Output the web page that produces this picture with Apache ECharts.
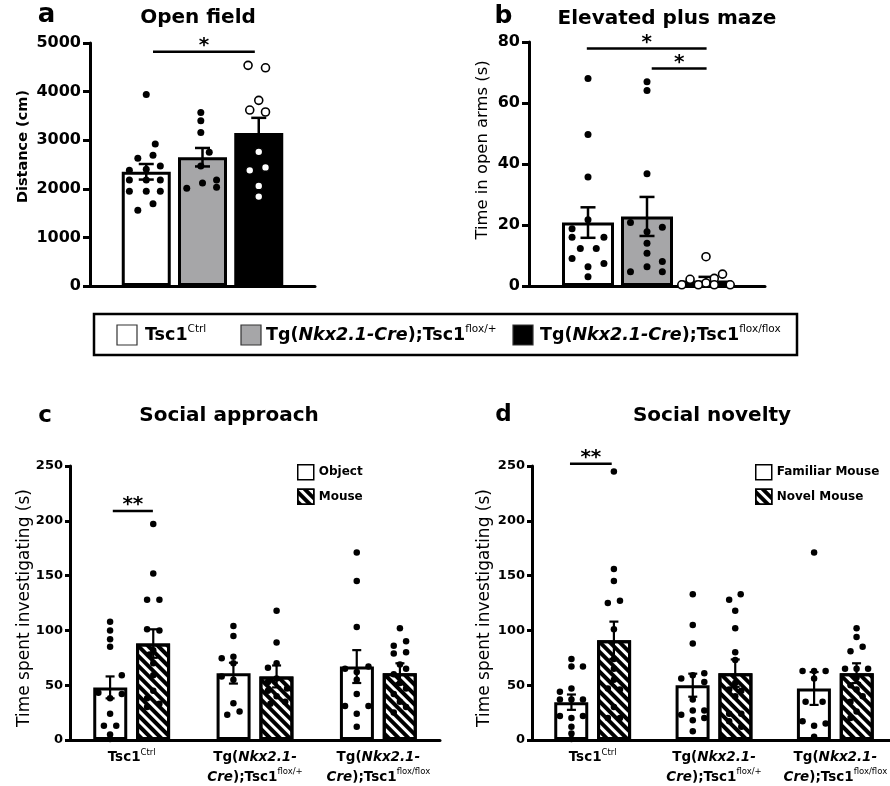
<!DOCTYPE html>
<html><head><meta charset="utf-8">
<script src="https://cdn.jsdelivr.net/npm/echarts@6/dist/echarts.min.js"></script>
<style>html,body{margin:0;padding:0;background:#fff}#c{width:890px;height:786px}</style>
</head><body><div id="c"></div>
<script>
// ---------- DATA ----------
const genotypeLegend = ['{n|Tsc1}{s|Ctrl}', '{n|Tg(}{i|Nkx2.1-Cre}{n|);Tsc1}{s|flox/+}', '{n|Tg(}{i|Nkx2.1-Cre}{n|);Tsc1}{s|flox/flox}'];
const groupLabels = ['{n|Tsc1}{s|Ctrl}', '{n|Tg(}{i|Nkx2.1-}\n{i|Cre}{n|);Tsc1}{s|flox/+}', '{n|Tg(}{i|Nkx2.1-}\n{i|Cre}{n|);Tsc1}{s|flox/flox}'];
const genoFill = ['#ffffff', '#a6a6a8', '#000000'];

// a: open field distance (cm)
const ofMean = [2350, 2650, 3150];
const ofSem = [160, 190, 310];
const ofVals = [
  [3940, 2920, 2690, 2630, 2470, 2400, 2380, 2180, 2180, 2180, 1950, 1950, 1950, 1690, 1560],
  [3570, 3400, 3160, 2750, 2470, 2180, 2120, 2030, 2010],
  [4540, 4490, 3820, 3620, 3580, 2760, 2440, 2380, 2060, 1840]
];
const ofJit = [
  [0, 0.16, 0.12, -0.15, 0.25, 0, -0.3, -0.3, 0, 0.25, -0.3, 0, 0.25, 0.12, -0.15],
  [-0.03, -0.03, -0.03, 0.12, -0.03, 0.25, 0, 0.25, -0.28],
  [-0.19, 0.12, 0, -0.16, 0.12, 0, 0.12, -0.16, 0, 0]
];
const ofSig = [[1.12, 2.93, 4820]];
const ofSigMark = ['*'];

// b: elevated plus maze, time in open arms (s)
const epmMean = [20.8, 22.8, 1.8];
const epmSem = [5, 6.4, 1.2];
const epmVals = [
  [68, 49.7, 35.7, 21.7, 18.8, 16, 16, 12.3, 12.3, 9, 7.4, 6.3, 3],
  [67, 64.1, 36.8, 20.8, 19.3, 17.8, 14, 10.7, 8, 6.3, 4.7, 4.7],
  [9.6, 3.9, 2.5, 2.2, 1, 0.4, 0.4, 0.4, 0.4]
];
const epmJit = [
  [0, 0, 0, 0, -0.27, -0.27, 0.27, -0.13, 0.14, -0.27, 0.27, 0, 0],
  [0, 0, 0, -0.28, 0.26, 0, 0, 0, 0.26, 0, -0.28, 0.26],
  [0, 0.28, 0.14, -0.27, 0, -0.41, -0.13, 0.14, 0.41]
];
const epmSig = [[0.98, 3.01, 77.9], [2.08, 3.01, 71.3]];
const epmSigMark = ['*', '*'];

// c: social approach (s)
const saNames = ['Object', 'Mouse'];
const saMean = [[48, 61, 67], [88, 58, 61]];
const saSem = [[10, 9.5, 15], [13, 10, 9]];
const saVals = [
  [[108, 100, 92, 85, 59, 43, 42, 38, 24, 13, 13, 5, 1],
   [104, 95, 76, 74.5, 70, 58, 55, 33.5, 26, 23],
   [171, 145, 103, 67, 65, 62, 55, 42, 31, 31, 24, 12]],
  [[197, 152, 128, 128, 101, 100, 82, 78, 70, 59, 45, 38, 33, 30],
   [118, 89, 70, 66, 56, 53, 47, 45, 40, 35, 33],
   [102, 90, 86, 80, 79, 69, 65, 60, 52, 47, 42, 35, 30, 25]]
];
const saJit = [
  [[0, 0, 0, 0, 0.095, -0.095, 0.095, 0, 0, -0.05, 0.05, 0, 0],
   [0, 0, 0, -0.095, 0, -0.095, 0, 0, 0.05, -0.05],
   [0, 0, 0, 0.095, -0.095, 0, 0, 0, -0.095, 0.095, 0, 0]],
  [[0, 0, -0.05, 0.05, -0.05, 0.05, 0, -0.03, 0, 0, 0, -0.05, 0.05, -0.05],
   [0, 0, 0, -0.07, 0, -0.07, 0.085, -0.07, 0, 0.07, -0.05],
   [0, 0.05, -0.05, 0.05, -0.05, 0, 0.05, -0.05, 0, 0.05, -0.05, 0, 0.05, -0.05]]
];
const saSig = [[0.847, 1.172, 209]];
const saSigMark = ['**'];

// d: social novelty (s)
const snNames = ['Familiar Mouse', 'Novel Mouse'];
const snMean = [[34.5, 50, 47], [91, 61, 61]];
const snSem = [[7, 10.5, 15], [17, 12.5, 9]];
const snVals = [
  [[74, 67, 67, 47, 44, 37, 37, 37, 22, 22, 20, 12, 6, 1],
   [133, 105, 88, 61, 59, 56, 53, 37, 27, 27, 23, 20, 18, 8],
   [171, 63, 63, 63, 56, 35, 35, 17, 15, 13, 3]],
  [[245, 156, 145, 127, 125, 101, 74, 65, 55, 47, 46, 30, 20, 20],
   [133, 128, 118, 102, 80, 73, 52, 46, 45, 40, 24, 24, 17, 12],
   [102, 94, 85, 81, 65, 65, 65, 57, 50, 46, 40, 35, 26, 20]]
];
const snJit = [
  [[0, 0, 0.095, 0, -0.095, -0.095, 0, 0.095, -0.095, 0.095, 0, 0, 0, 0],
   [0, 0, 0, 0.095, 0, -0.095, 0.095, 0, 0, 0.095, -0.095, 0.095, 0, 0],
   [0, -0.095, 0, 0.095, 0, -0.07, 0.07, -0.095, 0.095, 0, 0]],
  [[0, 0, 0, 0.05, -0.05, 0, 0, 0, 0, -0.05, 0.05, 0, -0.05, 0.05],
   [0.045, -0.05, 0, 0, 0, 0, 0, -0.05, 0.05, 0, -0.05, 0.05, -0.05, 0.05],
   [0, 0, 0.05, -0.05, -0.095, 0, 0.095, 0, -0.05, 0, 0.05, -0.05, 0, -0.05]]
];
const snSig = [[0.813, 1.157, 252]];
const snSigMark = ['**'];

// ---------- STYLE HELPERS ----------
const FF = 'DejaVu Sans';
const SIDE = 0.175; // half distance between paired bars, in group units
const hatch = {symbol: 'rect', symbolSize: 1, dashArrayX: [1, 0], dashArrayY: [3.2, 3], rotation: Math.PI / 4, color: '#000'};

function richDef(sz, supSz, lh) {
  return {
    n: {fontFamily: FF, fontWeight: 'bold', fontSize: sz, color: '#000', lineHeight: lh},
    i: {fontFamily: FF, fontWeight: 'bold', fontStyle: 'italic', fontSize: sz, color: '#000', lineHeight: lh},
    s: {fontFamily: FF, fontWeight: 'normal', fontSize: supSz, color: '#000', verticalAlign: 'top', lineHeight: supSz + 2}
  };
}

function yAx(gi, max, itv, name, gap, fs, nfs, pad, tl, mg, nw) {
  return {
    gridIndex: gi, type: 'value', min: 0, max: max, interval: itv,
    axisLine: {show: true, onZero: false, lineStyle: {color: '#000', width: 3}},
    axisTick: {show: true, length: tl, lineStyle: {color: '#000', width: 3}},
    axisLabel: {color: '#000', fontFamily: FF, fontWeight: 'bold', fontSize: fs, margin: mg, formatter: function (v) { return String(v); }},
    splitLine: {show: false},
    name: name, nameLocation: 'middle', nameGap: gap, nameRotate: 90, nameMoveOverlap: false,
    nameTextStyle: {color: '#000', fontFamily: FF, fontSize: nfs, fontWeight: nw || 'normal', padding: pad}
  };
}
function xVal(gi, min, max, show) {
  return {
    gridIndex: gi, type: 'value', min: min, max: max, show: show,
    axisLine: {show: true, onZero: true, lineStyle: {color: '#000', width: 3}},
    axisTick: {show: false}, axisLabel: {show: false}, splitLine: {show: false}
  };
}
function xCat(gi) {
  return {
    gridIndex: gi, type: 'category', data: groupLabels,
    axisLine: {show: true, lineStyle: {color: '#000', width: 3}},
    axisTick: {show: false}, splitLine: {show: false},
    axisLabel: {interval: 0, margin: 8, hideOverlap: false, color: '#000', formatter: function (v) { return v; }, rich: richDef(13.5, 8.5, 19.5)}
  };
}
function errSeries(xi, yi, data, cap, lw) {
  return {
    type: 'custom', xAxisIndex: xi, yAxisIndex: yi, z: 3, silent: true, clip: false,
    encode: {x: 0, y: 1}, data: data,
    renderItem: function (p, api) {
      const x = api.value(0), m = api.value(1), s = api.value(2);
      const t = api.coord([x, m + s]), b = api.coord([x, m - s]);
      const st = {stroke: '#000', lineWidth: lw};
      return {type: 'group', children: [
        {type: 'line', shape: {x1: t[0], y1: t[1], x2: b[0], y2: b[1]}, style: st},
        {type: 'line', shape: {x1: t[0] - cap, y1: t[1], x2: t[0] + cap, y2: t[1]}, style: st},
        {type: 'line', shape: {x1: b[0] - cap, y1: b[1], x2: b[0] + cap, y2: b[1]}, style: st}
      ]};
    }
  };
}
function sigSeries(xi, yi, data, marks) {
  return {
    type: 'custom', xAxisIndex: xi, yAxisIndex: yi, z: 5, silent: true, clip: false,
    encode: {x: [0, 1], y: 2}, data: data,
    renderItem: function (p, api) {
      const a = api.coord([api.value(0), api.value(2)]), b = api.coord([api.value(1), api.value(2)]);
      return {type: 'group', children: [
        {type: 'line', shape: {x1: a[0], y1: a[1], x2: b[0], y2: b[1]}, style: {stroke: '#000', lineWidth: 2.5}},
        {type: 'text', x: (a[0] + b[0]) / 2, y: a[1] + 4, style: {text: marks[p.dataIndex], fill: '#000', font: 'bold 20px "DejaVu Sans"', align: 'center', verticalAlign: 'bottom'}}
      ]};
    }
  };
}
function dots(xi, yi, vals, jit, center, open) {
  return {
    type: 'scatter', xAxisIndex: xi, yAxisIndex: yi, z: 4, silent: true, clip: false,
    symbolSize: open ? 8 : (xi < 2 ? 7 : 6.5),
    itemStyle: open ? {color: '#fff', borderColor: '#000', borderWidth: 1.6, opacity: 1} : {color: '#000', opacity: 1},
    data: vals.map(function (v, j) { return [center + jit[j], v]; })
  };
}

// ---------- SERIES ----------
const series = [];
// panel a
series.push({type: 'bar', xAxisIndex: 0, yAxisIndex: 0, barWidth: 49, z: 2, silent: true,
  itemStyle: {borderColor: '#000', borderWidth: 3},
  data: ofMean.map(function (v, i) { return {value: [i + 1, v], itemStyle: {color: genoFill[i]}}; })});
series.push(errSeries(0, 0, ofMean.map(function (m, i) { return [i + 1, m, ofSem[i]]; }), 7.5, 2.5));
ofVals.forEach(function (vals, i) { series.push(dots(0, 0, vals, ofJit[i], i + 1, i === 2)); });
series.push(sigSeries(0, 0, ofSig, ofSigMark));
// panel b
series.push({type: 'bar', xAxisIndex: 1, yAxisIndex: 1, barWidth: 52, z: 2, silent: true,
  itemStyle: {borderColor: '#000', borderWidth: 3},
  data: epmMean.map(function (v, i) { return {value: [i + 1, v], itemStyle: {color: genoFill[i]}}; })});
series.push(errSeries(1, 1, epmMean.map(function (m, i) { return [i + 1, m, epmSem[i]]; }), 7.5, 2.5));
epmVals.forEach(function (vals, i) { series.push(dots(1, 1, vals, epmJit[i], i + 1, i === 2)); });
series.push(sigSeries(1, 1, epmSig, epmSigMark));
// panels c and d
function pairedPanel(catX, valX, yi, names, means, sems, vals, jit, sig, sigMark) {
  names.forEach(function (nm, k) {
    const ist = {color: '#fff', borderColor: '#000', borderWidth: 3};
    if (k === 1) ist.decal = hatch;
    series.push({type: 'bar', name: nm, xAxisIndex: catX, yAxisIndex: yi, barWidth: 34, barGap: '26%', z: 2, silent: true,
      itemStyle: ist, data: means[k]});
    const off = k === 0 ? -SIDE : SIDE;
    series.push(errSeries(valX, yi, means[k].map(function (m, i) { return [i + 1 + off, m, sems[k][i]]; }), 4.5, 2.2));
    vals[k].forEach(function (v, i) { series.push(dots(valX, yi, v, jit[k][i], i + 1 + off, false)); });
  });
  series.push(sigSeries(valX, yi, sig, sigMark));
}
pairedPanel(2, 3, 2, saNames, saMean, saSem, saVals, saJit, saSig, saSigMark);
pairedPanel(4, 5, 3, snNames, snMean, snSem, snVals, snJit, snSig, snSigMark);

// ---------- GRAPHIC (titles, top legend) ----------
function txt(x, y, t, font) {
  return {type: 'text', x: x, y: y, silent: true, style: {text: t, font: font, fill: '#000', align: 'center', verticalAlign: 'middle'}};
}
const graphic = [
  txt(46.5, 15, 'a', 'bold 26px "DejaVu Sans"'),
  txt(198, 18, 'Open field', 'bold 20px "DejaVu Sans"'),
  txt(503.5, 16, 'b', 'bold 25px "DejaVu Sans"'),
  txt(667, 19, 'Elevated plus maze', 'bold 20px "DejaVu Sans"'),
  txt(45, 416, 'c', 'bold 23px "DejaVu Sans"'),
  txt(229, 415.5, 'Social approach', 'bold 20px "DejaVu Sans"'),
  txt(503.5, 415.5, 'd', 'bold 23px "DejaVu Sans"'),
  txt(712, 415.5, 'Social novelty', 'bold 20px "DejaVu Sans"'),
  {type: 'rect', silent: true, shape: {x: 94, y: 314, width: 703, height: 41}, style: {fill: 'none', stroke: '#000', lineWidth: 2.5}}
];
const legSq = [117, 241, 513], legTx = [145, 266, 540];
genotypeLegend.forEach(function (t, i) {
  graphic.push({type: 'rect', silent: true, shape: {x: legSq[i], y: 325, width: 20, height: 20}, style: {fill: genoFill[i], stroke: '#333', lineWidth: 1.2}});
  graphic.push({type: 'text', silent: true, x: legTx[i], y: 335, style: {text: t, rich: richDef(17.5, 10.5, 22), align: 'left', verticalAlign: 'middle'}});
});

const legendStyle = {orient: 'vertical', itemWidth: 16, itemHeight: 15, itemGap: 8, icon: 'rect', selectedMode: false, padding: 0,
  textStyle: {fontFamily: FF, fontWeight: 'bold', fontSize: 12, color: '#000'},
  itemStyle: {borderColor: '#000', borderWidth: 1.5}};

const option = {
  animation: false,
  backgroundColor: '#fff',
  textStyle: {fontFamily: FF},
  grid: [
    {left: 90, top: 43, width: 225, height: 243, containLabel: false, outerBoundsMode: 'none'},
    {left: 529, top: 42, width: 236, height: 244, containLabel: false, outerBoundsMode: 'none'},
    {left: 70, top: 466, width: 370, height: 274, containLabel: false, outerBoundsMode: 'none'},
    {left: 532, top: 466, width: 364, height: 274, containLabel: false, outerBoundsMode: 'none'}
  ],
  xAxis: [xVal(0, 0, 4, true), xVal(1, 0, 4, true), xCat(2), xVal(2, 0.5, 3.5, false), xCat(3), xVal(3, 0.5, 3.5, false)],
  yAxis: [
    yAx(0, 5000, 1000, 'Distance (cm)', 59, 16, 14.5, [0, 0, 0, 36], 7, 9, 'bold'),
    yAx(1, 80, 20, 'Time in open arms (s)', 38, 16, 16.4, [0, 0, 0, 28], 7, 9),
    yAx(2, 250, 50, 'Time spent investigating (s)', 37, 13, 17, [0, 10, 0, 0], 5, 7),
    yAx(3, 250, 50, 'Time spent investigating (s)', 39, 13, 17, [0, 10, 0, 0], 5, 7)
  ],
  legend: [
    Object.assign({left: 297, top: 464, data: saNames}, legendStyle),
    Object.assign({left: 755, top: 464, data: snNames}, legendStyle)
  ],
  graphic: graphic,
  series: series
};
const chart = echarts.init(document.getElementById('c'), null, {renderer: 'canvas'});
chart.setOption(option);
</script></body></html>
